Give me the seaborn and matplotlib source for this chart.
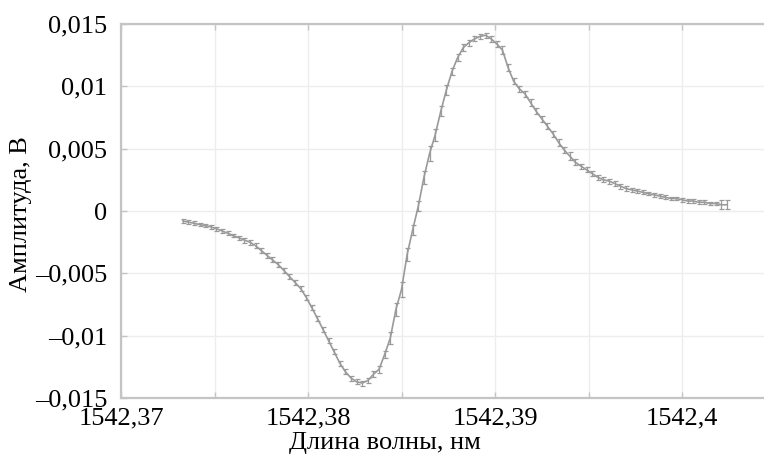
import matplotlib
matplotlib.use("Agg")
import matplotlib.pyplot as plt
import seaborn as sns
import numpy as np
import pandas as pd

wavelength = [
    1542.3733, 1542.3736, 1542.3739, 1542.3742, 1542.3745, 1542.3748, 1542.3751, 1542.3754, 1542.3757, 1542.3760,
    1542.3763, 1542.3766, 1542.3769, 1542.3772, 1542.3775, 1542.3778, 1542.3781, 1542.3784, 1542.3787, 1542.3790,
    1542.3793, 1542.3796, 1542.3799, 1542.3802, 1542.3805, 1542.3808, 1542.3811, 1542.3814, 1542.3817, 1542.3820,
    1542.3823, 1542.3826, 1542.3829, 1542.3832, 1542.3835, 1542.3838, 1542.3841, 1542.3844, 1542.3847, 1542.3850,
    1542.3853, 1542.3856, 1542.3859, 1542.3862, 1542.3865, 1542.3868, 1542.3871, 1542.3874, 1542.3877, 1542.3880,
    1542.3883, 1542.3886, 1542.3889, 1542.3892, 1542.3895, 1542.3898, 1542.3901, 1542.3904, 1542.3907, 1542.3910,
    1542.3913, 1542.3916, 1542.3919, 1542.3922, 1542.3925, 1542.3928, 1542.3931, 1542.3934, 1542.3937, 1542.3940,
    1542.3943, 1542.3946, 1542.3949, 1542.3952, 1542.3955, 1542.3958, 1542.3961, 1542.3964, 1542.3967, 1542.3970,
    1542.3973, 1542.3976, 1542.3979, 1542.3982, 1542.3985, 1542.3988, 1542.3991, 1542.3994, 1542.3997, 1542.4000,
    1542.4003, 1542.4006, 1542.4009, 1542.4012, 1542.4015, 1542.4018, 1542.4021, 1542.4024,
]

amplitude = [
    -0.00080, -0.00089, -0.00099, -0.00108, -0.00117, -0.00127, -0.00142, -0.00160, -0.00178, -0.00197,
    -0.00215, -0.00233, -0.00251, -0.00279, -0.00317, -0.00355, -0.00392, -0.00429, -0.00475, -0.00524,
    -0.00572, -0.00621, -0.00691, -0.00775, -0.00860, -0.00950, -0.01040, -0.01130, -0.01220, -0.01290,
    -0.01340, -0.01370, -0.01380, -0.01360, -0.01310, -0.01270, -0.01150, -0.01020, -0.00790, -0.00630,
    -0.00350, -0.00150, 0.00040, 0.00270, 0.00460, 0.00610, 0.00800, 0.00970, 0.01120, 0.01230,
    0.01310, 0.01350, 0.01380, 0.01400, 0.01410, 0.01380, 0.01340, 0.01290, 0.01150, 0.01040,
    0.00980, 0.00940, 0.00870, 0.00800, 0.00740, 0.00680, 0.00620, 0.00550, 0.00490, 0.00440,
    0.00390, 0.00360, 0.00330, 0.00300, 0.00270, 0.00250, 0.00240, 0.00220, 0.00200, 0.00180,
    0.00170, 0.00160, 0.00150, 0.00140, 0.00130, 0.00120, 0.00110, 0.00100, 0.00100, 0.00090,
    0.00080, 0.00080, 0.00070, 0.00070, 0.00060, 0.00060, 0.00050, 0.00050,
]

error = [
    0.00015, 0.00015, 0.00015, 0.00015, 0.00015, 0.00015, 0.00015, 0.00015, 0.00015, 0.00015,
    0.00015, 0.00020, 0.00020, 0.00020, 0.00020, 0.00020, 0.00020, 0.00020, 0.00020, 0.00020,
    0.00020, 0.00020, 0.00020, 0.00020, 0.00020, 0.00020, 0.00020, 0.00020, 0.00020, 0.00020,
    0.00020, 0.00020, 0.00020, 0.00020, 0.00025, 0.00030, 0.00030, 0.00050, 0.00050, 0.00060,
    0.00050, 0.00040, 0.00040, 0.00050, 0.00060, 0.00050, 0.00040, 0.00040, 0.00030, 0.00030,
    0.00030, 0.00025, 0.00020, 0.00020, 0.00020, 0.00025, 0.00025, 0.00030, 0.00030, 0.00025,
    0.00025, 0.00025, 0.00025, 0.00025, 0.00025, 0.00025, 0.00025, 0.00025, 0.00025, 0.00030,
    0.00025, 0.00020, 0.00020, 0.00020, 0.00020, 0.00020, 0.00020, 0.00020, 0.00020, 0.00020,
    0.00015, 0.00015, 0.00015, 0.00015, 0.00015, 0.00015, 0.00015, 0.00015, 0.00015, 0.00015,
    0.00015, 0.00015, 0.00015, 0.00015, 0.00015, 0.00015, 0.00035, 0.00035,
]

x_ticks = [1542.37, 1542.375, 1542.38, 1542.385, 1542.39, 1542.395, 1542.40, 1542.405]
x_tick_labels = ["1542,37", "", "1542,38", "", "1542,39", "", "1542,4", ""]
y_ticks = [-0.015, -0.01, -0.005, 0.0, 0.005, 0.01, 0.015]
y_tick_labels = ["\u20130,015", "\u20130,01", "\u20130,005", "0", "0,005", "0,01", "0,015"]

df = pd.DataFrame({"wl": wavelength, "amp": amplitude, "err": error})

sns.set_theme(style="whitegrid")
plt.rcParams["font.family"] = ["Liberation Serif", "DejaVu Serif"]

fig = plt.figure(figsize=(7.64, 4.57), dpi=100)
ax = fig.add_axes([121 / 764, 59 / 457, 654.5 / 764, 374 / 457])

line_color = "#9a9a9a"
sns.lineplot(data=df, x="wl", y="amp", ax=ax, color=line_color, linewidth=1.2,
             estimator=None, sort=False)
ax.errorbar(df["wl"], df["amp"], yerr=df["err"], fmt="none", ecolor=line_color,
            elinewidth=0.9, capsize=1.8, capthick=0.9)

ax.set_xlim(1542.37, 1542.405)
ax.set_ylim(-0.015, 0.015)
ax.set_xticks(x_ticks)
ax.set_xticklabels(x_tick_labels)
ax.set_yticks(y_ticks)
ax.set_yticklabels(y_tick_labels)

ax.grid(True, color="#ededed", linewidth=1.0)
for side in ["left", "bottom", "top", "right"]:
    ax.spines[side].set_visible(True)
    ax.spines[side].set_color("#c4c4c4")
    ax.spines[side].set_linewidth(1.6)

fs = 19
ax.tick_params(axis="both", which="major", direction="in", length=4, width=1.0,
               color="#c4c4c4", labelsize=fs, labelcolor="black",
               top=True, bottom=True, left=True, right=False)
ax.tick_params(axis="y", pad=10)
ax.tick_params(axis="x", pad=7)

ax.set_xlabel("Длина волны, нм", fontsize=fs, color="black")
ax.set_ylabel("Амплитуда, В", fontsize=fs, color="black")
ax.xaxis.set_label_coords((385 - 121) / 654.5, (398 - 432) / 374)
ax.yaxis.set_label_coords((32 - 121) / 654.5, (398 - 214) / 374)

fig.savefig("out.png", dpi=100)
